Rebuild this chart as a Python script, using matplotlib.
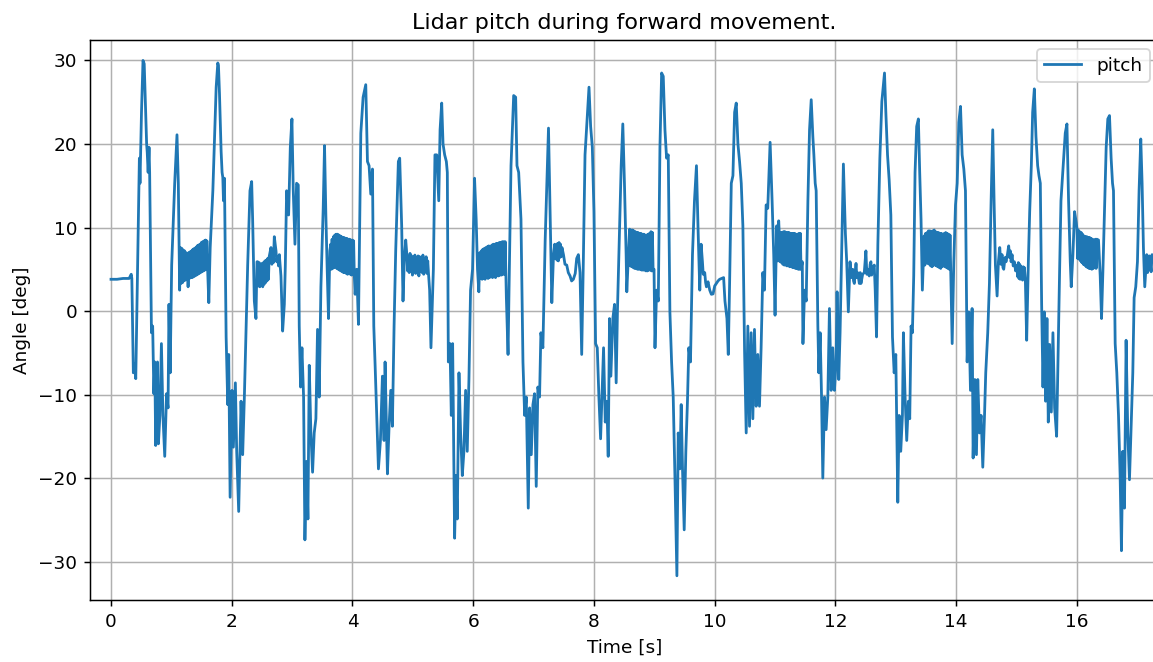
import numpy as np
import matplotlib
matplotlib.use("Agg")
import matplotlib.pyplot as plt

# Lidar pitch trace: (time [s], pitch [deg]) per stride.
lead_in = [(0.00, 3.8), (0.10, 3.8), (0.20, 3.9), (0.30, 3.9), (0.335, 4.4), (0.345, 3.9),
           (0.37, -7.4), (0.39, -6.3), (0.41, -8.1), (0.47, 18.3), (0.48, 15.3), (0.505, 23.8),
           (0.53, 30.0), (0.55, 29.6), (0.59, 20.0), (0.60, 19.0), (0.615, 16.6), (0.63, 19.6),
           (0.64, 16.6), (0.67, -2.6), (0.69, -1.8), (0.71, -9.9), (0.725, -6.1), (0.74, -16.1),
           (0.75, -7.0), (0.76, -15.0), (0.77, -6.1), (0.785, -15.9), (0.81, -12.5), (0.835, -3.9),
           (0.86, -12.5), (0.89, -17.4), (0.92, -9.9), (0.945, -11.6), (0.96, 0.8), (0.98, -7.4),
           (1.005, 5.5), (1.055, 15.3), (1.093, 21.1), (1.115, 15.3), (1.137, 2.5)]

stride_02 = [(1.62, 1.0), (1.643, 7.6), (1.687, 14.4), (1.714, 20.4), (1.742, 26.8), (1.769, 29.7),
             (1.78, 29.4), (1.797, 26.0), (1.824, 19.1), (1.84, 16.6), (1.852, 16.0), (1.863, 13.2),
             (1.879, 15.9), (1.907, -3.1), (1.934, -11.2), (1.95, -5.2), (1.973, -22.3), (2.005, -9.5),
             (2.027, -16.3), (2.06, -8.6), (2.082, -16.8), (2.115, -24.0), (2.154, -10.8), (2.181, -17.2),
             (2.209, -10.3), (2.264, 5.5), (2.302, 14.4), (2.33, 15.5), (2.346, 11.0), (2.374, 1.2),
             (2.401, -0.9), (2.418, 5.9)]

stride_03 = [(2.65, 7.6), (2.665, 5.6), (2.68, 7.0), (2.69, 5.8), (2.705, 8.9), (2.72, 8.0),
             (2.733, 7.2), (2.745, 5.9), (2.76, 6.5), (2.775, 5.4), (2.788, 6.75), (2.815, 4.2),
             (2.843, -2.4), (2.871, 0.8), (2.887, 5.3), (2.909, 14.4),
             (2.942, 11.5), (2.97, 19.6), (2.997, 23.0), (3.019, 14.4), (3.047, 8.0), (3.074, 15.3),
             (3.102, 15.1), (3.118, -1.8), (3.14, -9.1), (3.163, -4.4), (3.19, -10.3), (3.212, -27.4),
             (3.24, -18.0), (3.262, -24.9), (3.284, -6.5), (3.311, -14.6), (3.339, -19.3), (3.366, -14.6),
             (3.394, -12.9), (3.421, -2.2), (3.449, -10.3), (3.477, 2.9), (3.515, 12.3), (3.537, 19.8),
             (3.559, 11.5), (3.581, 5.0), (3.603, -0.9), (3.625, 7.2)]

stride_04 = [(4.044, 2.0), (4.07, 5.0), (4.099, -1.6), (4.138, 21.3), (4.176, 25.6), (4.22, 27.1),
             (4.248, 17.9), (4.275, 17.4), (4.303, 14.0), (4.331, 17.0), (4.353, -1.8), (4.375, -6.5),
             (4.397, -11.6), (4.43, -18.9), (4.463, -15.5), (4.496, -7.8), (4.523, -15.5), (4.54, -6.1),
             (4.579, -19.5), (4.606, -13.8), (4.634, -9.5), (4.661, -13.8), (4.689, -1.8), (4.716, 7.2),
             (4.76, 17.9), (4.782, 18.3), (4.815, 10.2), (4.837, 1.2), (4.86, 6.3), (4.882, 8.5)]

stride_05 = [(5.278, 2.5), (5.30, -4.4), (5.34, 5.0), (5.366, 18.7), (5.396, 18.7), (5.429, 13.2),
             (5.451, 21.7), (5.478, 24.9), (5.50, 20.0), (5.527, 18.7), (5.555, 17.9), (5.571, 16.6),
             (5.588, -6.1), (5.615, -3.9), (5.637, -12.5), (5.659, -3.9), (5.692, -27.2), (5.714, -19.7),
             (5.736, -24.9), (5.764, -7.4), (5.791, -14.6), (5.819, -19.7), (5.846, -16.8), (5.874, -9.5),
             (5.901, -16.8), (5.929, -8.2), (5.956, 2.5), (5.989, 5.0), (6.022, 15.9), (6.049, 11.0),
             (6.071, 5.0), (6.093, 2.3)]

stride_06 = [(6.549, 1.6), (6.577, -5.2), (6.593, 2.5), (6.626, 17.4), (6.67, 25.8), (6.703, 25.6),
             (6.725, 17.4), (6.753, 16.6), (6.791, 11.0), (6.824, -6.1), (6.852, -12.5), (6.879, -10.3),
             (6.912, -23.6), (6.934, -11.6), (6.962, -17.2), (6.989, -11.2), (7.016, -9.9), (7.044, -21.0),
             (7.071, -9.1), (7.099, -10.3), (7.121, -2.6), (7.154, -4.4), (7.192, 8.5), (7.22, 15.3),
             (7.247, 21.9), (7.275, 11.0), (7.302, 1.0), (7.33, 6.75)]

stride_07 = [(7.495, 6.75), (7.52, 5.6), (7.549, 5.5), (7.575, 4.6), (7.604, 4.2), (7.63, 3.6),
             (7.659, 3.8), (7.69, 4.5), (7.714, 6.3), (7.742, 6.75), (7.769, 4.6), (7.797, -5.2),
             (7.824, 6.0), (7.852, 18.7), (7.879, 22.1),
             (7.918, 26.8), (7.945, 22.1), (7.973, 19.6), (8.00, 11.9), (8.027, -3.9), (8.055, -4.4),
             (8.082, -10.3), (8.11, -15.3), (8.159, -4.4), (8.187, -13.3), (8.214, -10.8), (8.236, -17.4),
             (8.258, -0.9), (8.28, -7.8), (8.313, -0.9), (8.341, 0.8), (8.368, -8.6), (8.39, 0.3),
             (8.423, 9.7), (8.451, 17.4), (8.478, 22.4), (8.505, 15.3), (8.533, 6.75), (8.544, 2.3),
             (8.571, 6.75)]

stride_08 = [(8.995, 5.0), (9.011, -4.4), (9.038, 2.5), (9.066, 1.2), (9.093, 19.6), (9.121, 28.5),
             (9.148, 28.1), (9.176, 21.7), (9.203, 18.3), (9.231, 18.7), (9.258, -0.1), (9.286, -6.1),
             (9.313, -10.3), (9.341, -19.7), (9.374, -31.7), (9.396, -14.6), (9.423, -18.9), (9.445, -11.2),
             (9.467, -18.9), (9.495, -26.2), (9.522, -16.8), (9.549, -10.8), (9.571, -4.4), (9.599, -6.1),
             (9.632, 6.75), (9.665, 13.2), (9.698, 17.4), (9.725, 9.7), (9.753, 2.5), (9.775, 8.0),
             (9.797, 5.9), (9.81, 4.4), (9.835, 4.6), (9.85, 3.4), (9.863, 2.9), (9.89, 3.5), (9.918, 2.5),
             (9.945, 2.0), (9.973, 2.05), (10.00, 3.0), (10.027, 3.3), (10.055, 3.6), (10.082, 3.8),
             (10.148, 4.0), (10.17, 1.2), (10.203, -0.9), (10.225, -5.2), (10.247, 3.3), (10.275, 15.3),
             (10.302, 16.2), (10.33, 23.8), (10.357, 24.9), (10.385, 20.0), (10.412, 17.9), (10.44, 15.3),
             (10.467, 10.2), (10.495, -4.8), (10.522, -14.6), (10.549, -1.8), (10.577, -13.8),
             (10.604, -2.6), (10.632, -12.9), (10.659, -2.2), (10.687, -11.4), (10.714, -5.2),
             (10.742, -11.4), (10.769, -4.4), (10.797, 4.6), (10.824, 2.5), (10.852, 12.7), (10.879, 12.3),
             (10.918, 20.2), (10.951, 13.2), (10.978, 6.75), (11.00, -0.5), (11.027, 10.2), (11.045, 6.0),
             (11.06, 10.8)]

stride_09 = [(11.451, 5.9), (11.462, -3.9), (11.489, 2.5), (11.516, 1.2), (11.544, 13.2), (11.571, 21.7),
             (11.599, 25.3), (11.626, 20.9), (11.643, 18.7), (11.665, 15.3), (11.681, 14.4), (11.709, -1.8),
             (11.725, -7.4), (11.747, -2.6), (11.769, -9.9), (11.791, -20.0), (11.819, -10.3),
             (11.846, -14.2), (11.874, -10.3), (11.901, 0.3), (11.929, -9.5), (11.956, -4.4),
             (11.984, -9.5), (12.011, -6.1), (12.027, 2.3), (12.055, -8.2), (12.077, -2.6), (12.11, 9.7),
             (12.132, 17.6), (12.165, 9.3), (12.187, 5.9), (12.214, -0.1), (12.242, 5.9), (12.265, 4.0),
             (12.286, 5.0), (12.30, 3.6), (12.313, 3.3), (12.341, 5.7), (12.355, 4.0), (12.368, 4.6),
             (12.396, 3.3), (12.41, 4.6), (12.423, 3.3), (12.451, 4.4), (12.478, 4.6), (12.505, 7.2),
             (12.52, 4.4), (12.533, 5.0), (12.56, 4.2), (12.575, 5.6), (12.588, 5.9), (12.60, 4.3),
             (12.615, 5.0), (12.643, 5.5), (12.659, 2.5), (12.681, -3.1), (12.703, 8.0), (12.736, 18.3),
             (12.769, 25.1), (12.791, 26.8), (12.813, 28.5), (12.835, 23.8), (12.863, 18.7), (12.89, 15.7),
             (12.918, 11.5), (12.945, -3.1), (12.973, -7.4), (13.00, -5.2), (13.016, -13.8),
             (13.033, -22.9), (13.055, -12.5), (13.082, -16.8), (13.11, -12.5), (13.126, -2.6),
             (13.154, -10.3), (13.181, -15.5), (13.209, -10.8), (13.231, -12.9), (13.253, -1.8),
             (13.275, -2.6), (13.297, 4.2), (13.319, 16.6), (13.346, 22.1), (13.374, 23.0), (13.396, 16.6),
             (13.418, 11.0), (13.44, 2.5)]

stride_10 = [(13.934, -3.9), (13.961, 5.9), (13.989, 12.7), (14.017, 15.3), (14.044, 22.6), (14.072, 24.5),
             (14.099, 18.7), (14.127, 17.0), (14.154, 14.4), (14.182, -6.1), (14.209, -0.1), (14.237, -9.5),
             (14.264, 0.3), (14.281, -17.6), (14.309, -8.2), (14.336, -17.2), (14.358, -8.2),
             (14.386, -14.6), (14.413, -12.5), (14.441, -18.7), (14.468, -12.9), (14.49, -7.4),
             (14.523, -2.6), (14.551, 3.3), (14.579, 13.2), (14.606, 21.7), (14.628, 13.2), (14.65, 5.5),
             (14.678, 1.8), (14.70, 5.9), (14.722, 7.6), (14.74, 5.6), (14.76, 6.75), (14.775, 5.2),
             (14.788, 5.0), (14.81, 6.4), (14.826, 5.9), (14.85, 6.8), (14.87, 7.8), (14.885, 6.4),
             (14.898, 7.2), (14.91, 5.9), (14.926, 6.75), (14.945, 5.4), (14.964, 5.9), (14.985, 4.8),
             (15.008, 5.5), (15.02, 4.1), (15.03, 5.8), (15.04, 3.9), (15.052, 5.6), (15.06, 3.8),
             (15.07, 5.4), (15.08, 3.9), (15.091, 5.0), (15.10, 3.7), (15.11, 5.3), (15.118, 4.0),
             (15.13, 5.2), (15.146, 3.8), (15.168, -3.5), (15.196, 5.9), (15.218, 11.9), (15.245, 17.4),
             (15.267, 23.8), (15.295, 26.6), (15.322, 20.9), (15.35, 17.4), (15.372, 16.2), (15.394, 15.3),
             (15.416, 0.8), (15.438, -9.1), (15.46, -0.1), (15.482, -10.8), (15.504, -0.9), (15.526, -13.3),
             (15.548, -4.0), (15.576, -12.1), (15.603, -2.6), (15.631, -11.6), (15.664, -15.0),
             (15.686, -6.1), (15.713, 4.6), (15.736, 13.2), (15.78, 18.3), (15.807, 21.3), (15.835, 22.4),
             (15.862, 13.2), (15.89, 5.9), (15.906, 2.9), (15.934, 6.75), (15.961, 11.9), (15.989, 10.6)]

stride_11 = [(16.358, 8.5), (16.386, 4.2), (16.408, -0.9), (16.43, 4.6), (16.457, 11.9), (16.485, 19.6),
             (16.512, 23.0), (16.54, 23.4), (16.567, 18.3), (16.59, 15.3), (16.606, 14.4), (16.634, -3.9),
             (16.661, -7.4), (16.689, -12.5), (16.716, -19.7), (16.738, -28.7), (16.76, -16.8),
             (16.788, -23.6), (16.815, -3.5), (16.843, -14.6), (16.871, -20.2), (16.898, -13.8),
             (16.926, -7.4), (16.948, 1.6), (16.975, 2.9), (17.003, 5.9), (17.03, 14.4), (17.058, 20.6),
             (17.08, 15.3), (17.102, 7.6), (17.124, 2.9), (17.157, 6.75), (17.17, 4.6), (17.185, 5.0),
             (17.20, 6.6), (17.212, 5.9), (17.23, 4.7), (17.245, 6.75), (17.30, 6.0)]

# Dense vibration stretches on the plateaus: (start [s], end [s], zig-zag samples [deg]).
band_01 = (1.15, 1.60, [7.6, 3.3, 7.5, 3.4, 7.3, 3.6, 7.2, 3.7, 7.0, 3.8,
                        6.9, 2.9, 7.0, 3.9, 7.1, 4.0, 7.2, 4.0, 7.4, 4.1,
                        7.5, 4.2, 7.6, 4.3, 7.8, 4.4, 7.9, 4.5, 8.0, 4.6,
                        8.2, 4.7, 8.3, 4.8, 8.4, 4.9, 8.5, 5.0, 8.4, 5.1])
band_02 = (2.43, 2.62, [5.9, 3.0, 5.8, 2.9, 5.6, 3.1, 5.7, 2.9, 5.8, 3.2,
                        6.0, 3.4, 6.1, 3.6, 6.3, 3.8, 6.5])
band_03 = (3.64, 4.03, [8.0, 5.0, 8.6, 5.1, 8.9, 5.2, 9.1, 5.3, 9.2, 5.1,
                        9.2, 5.0, 9.1, 4.9, 9.0, 4.8, 8.9, 4.7, 8.8, 4.6,
                        8.8, 4.6, 8.7, 4.5, 8.7, 4.4, 8.6, 4.5, 8.6, 4.4,
                        8.5, 4.3, 8.5, 4.4, 8.4, 4.3])
band_04 = (4.90, 5.26, [6.8, 4.8, 6.5, 4.6, 6.9, 4.9, 6.6, 4.3, 6.4, 5.0,
                        6.7, 4.5, 6.2, 4.7, 6.6, 4.2, 6.5, 4.8, 6.3, 4.6,
                        6.7, 4.4, 6.2, 4.9, 6.5, 4.5, 6.0, 4.4])
band_05 = (6.11, 6.53, [7.0, 3.9, 7.2, 3.8, 7.4, 3.9, 7.5, 3.8, 7.6, 4.0,
                        7.7, 3.9, 7.8, 4.0, 7.7, 4.1, 7.9, 4.0, 8.0, 4.1,
                        8.0, 4.0, 8.1, 4.2, 8.1, 4.2, 8.2, 4.3, 8.2, 4.3,
                        8.3, 4.4, 8.3, 4.4, 8.3])
band_06 = (7.35, 7.47, [8.0, 6.3, 7.9, 6.1, 8.1, 6.0, 8.2, 6.4, 8.0, 6.5, 7.6])
band_07 = (8.59, 8.98, [9.8, 5.4, 9.7, 5.3, 9.7, 5.2, 9.6, 5.1, 9.5, 5.1,
                        9.4, 5.0, 9.4, 5.0, 9.3, 5.0, 9.3, 4.9, 9.2, 4.9,
                        9.2, 4.9, 9.1, 4.8, 9.1, 4.8, 9.2, 4.9, 9.3, 4.9,
                        9.5, 4.8, 9.4, 4.8])
band_09 = (11.07, 11.43, [9.3, 5.9, 9.4, 5.8, 9.4, 5.6, 9.5, 5.5, 9.5, 5.5,
                          9.4, 5.4, 9.4, 5.4, 9.4, 5.3, 9.3, 5.3, 9.3, 5.2,
                          9.3, 5.2, 9.3, 5.1, 9.2, 5.1, 9.2, 5.0, 9.3, 5.0,
                          9.3, 5.0])
band_10 = (13.47, 13.91, [9.0, 5.5, 9.3, 5.8, 9.4, 5.7, 9.6, 5.6, 9.6, 5.4,
                          9.5, 5.3, 9.6, 5.5, 9.7, 5.5, 9.5, 5.4, 9.4, 5.3,
                          9.4, 5.2, 9.3, 5.1, 9.3, 5.3, 9.2, 5.4, 9.3, 5.3,
                          9.4, 5.2, 9.3, 5.1, 9.2, 5.0, 9.1, 5.0])
band_11 = (16.00, 16.33, [9.9, 6.3, 9.7, 6.2, 9.5, 6.0, 9.4, 5.8, 9.2, 5.6,
                          9.0, 5.5, 8.9, 5.3, 8.9, 5.2, 8.8, 5.1, 8.8, 5.1,
                          8.7, 5.0, 8.6, 5.1, 8.5, 5.2, 8.6, 5.1, 8.6])

strides = [lead_in, stride_02, stride_03, stride_04, stride_05, stride_06,
           stride_07, stride_08, stride_09, stride_10, stride_11]
bands = [band_01, band_02, band_03, band_04, band_05, band_06,
         band_07, band_09, band_10, band_11]

t_parts, v_parts = [], []
for pairs in strides:
    t, v = zip(*pairs)
    t_parts.append(np.array(t))
    v_parts.append(np.array(v))
for t0, t1, vals in bands:
    t_parts.append(np.linspace(t0, t1, len(vals)))
    v_parts.append(np.array(vals))

time_s = np.concatenate(t_parts)
pitch_deg = np.concatenate(v_parts)
order = np.argsort(time_s, kind="stable")
time_s, pitch_deg = time_s[order], pitch_deg[order]

# the reference was rendered at roughly 133 dpi
W, H, DPI = 1153, 662, 400 / 3
fig = plt.figure(figsize=(W / DPI, H / DPI), dpi=DPI)
ax = fig.add_axes([90 / W, 62 / H, 1069 / W, 560 / H])

ax.plot(time_s, pitch_deg, label="pitch")
ax.set_xlim(-0.348, 17.36)
ax.set_ylim(-34.6, 32.45)
ax.set_xticks(range(0, 17, 2))
ax.set_yticks(range(-30, 31, 10))
ax.grid(True)
ax.legend(loc="upper right")
ax.set_title("Lidar pitch during forward movement.")
ax.set_xlabel("Time [s]")
ax.set_ylabel("Angle [deg]")

fig.savefig("out.png", dpi=DPI)
